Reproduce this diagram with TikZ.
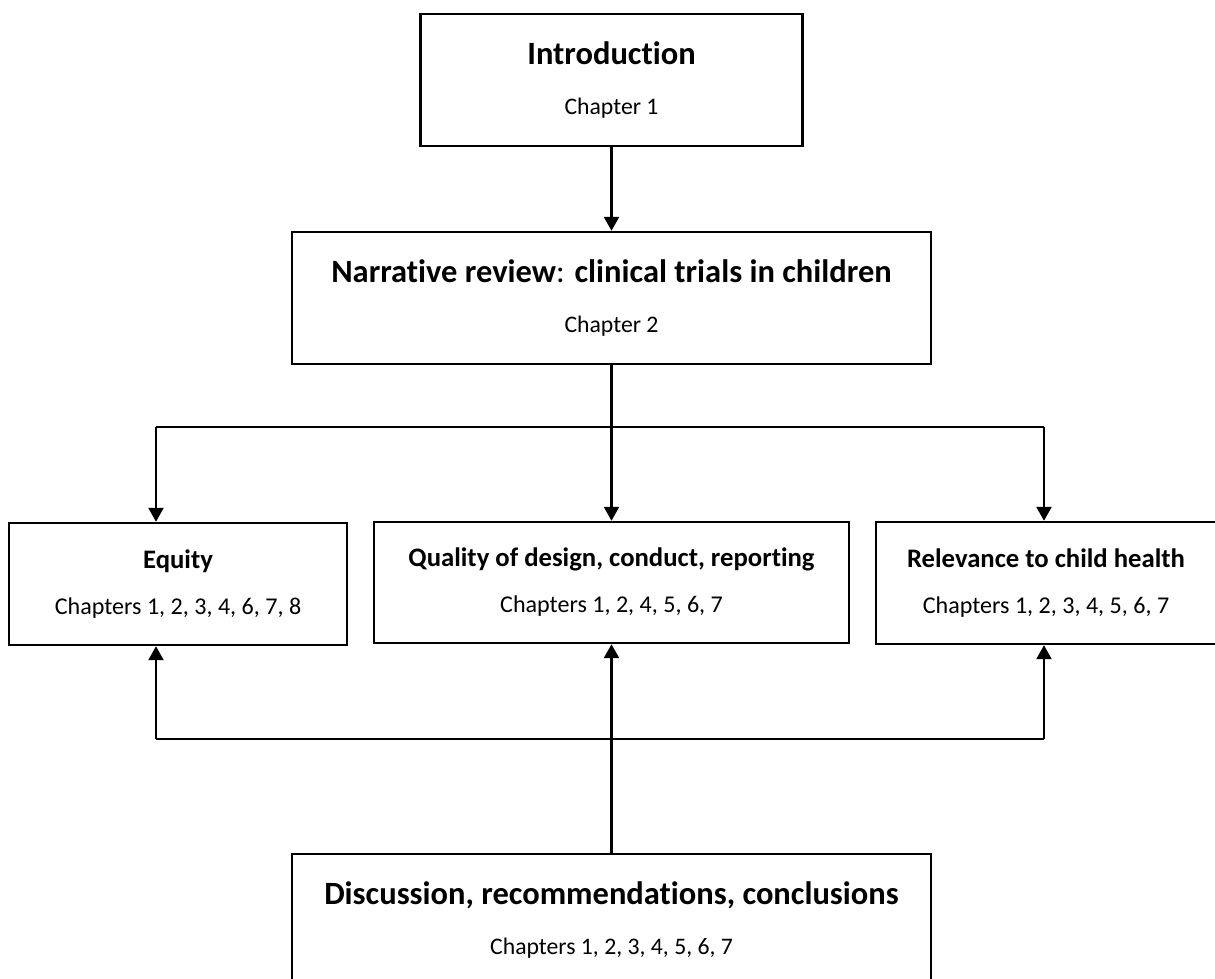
\documentclass[tikz,border=0pt]{standalone}
\usepackage{fontspec}
\setmainfont{Carlito}[Ligatures=NoCommon]
\usetikzlibrary{arrows.meta}

\begin{document}
\begin{tikzpicture}[x=0.02cm,y=-0.02cm,
    kasten/.style={rectangle,draw=black,line width=1.4pt,align=center,inner sep=0pt},
    gross/.style={kasten,minimum width=12.78cm,minimum height=2.64cm,
        font=\fontsize{13.5}{28.8}\selectfont},
    klein/.style={kasten,minimum height=2.44cm,
        font=\fontsize{13.7}{26.2}\selectfont},
    pfeil/.style={-{Triangle[length=0.28cm,width=0.3cm]},line width=1.4pt}]
\useasboundingbox (0,0) rectangle (1215,979);

\node[gross,minimum width=7.64cm] (intro) at (611.5,80)
    {\fontsize{18.5}{28.8}\selectfont\bfseries Introduction\\Chapter 1};
\node[gross] (review) at (611.5,298)
    {\fontsize{18.5}{28.8}\selectfont\textbf{Narrative review}:
     \textbf{clinical trials in children}\\Chapter 2};

\node[klein,minimum width=6.76cm] (equity) at (178,584)
    {\fontsize{15.2}{26.2}\selectfont\bfseries Equity\\Chapters 1, 2, 3, 4, 6, 7, 8};
\node[klein,minimum width=9.5cm,minimum height=2.42cm] (quality) at (611.5,582.5)
    {\fontsize{15.2}{26.2}\selectfont\bfseries Quality of design, conduct, reporting\\
     Chapters 1, 2, 4, 5, 6, 7};
\node[klein,minimum width=6.8cm] (relevance) at (1046,583)
    {\fontsize{15.2}{26.2}\selectfont\bfseries Relevance to child health\\
     Chapters 1, 2, 3, 4, 5, 6, 7};

\node[gross] (discussion) at (611.5,920)
    {\fontsize{18.5}{28.8}\selectfont\bfseries Discussion, recommendations, conclusions\\
     Chapters 1, 2, 3, 4, 5, 6, 7};

% branch out
\coordinate (ol) at (156,427);
\coordinate (or) at (1044,427);
\draw[line width=1.4pt] (ol)--(or);
\draw[pfeil] (intro)--(review);
\draw[pfeil] (review)--(quality);
\draw[pfeil] (ol)--(ol |- equity.north);
\draw[pfeil] (or)--(or |- relevance.north);

% feed back
\coordinate (ul) at (156,739);
\coordinate (ur) at (1044,739);
\draw[line width=1.4pt] (ul)--(ur);
\draw[pfeil] (discussion)--(quality);
\draw[pfeil] (ul)--(ul |- equity.south);
\draw[pfeil] (ur)--(ur |- relevance.south);
\end{tikzpicture}
\end{document}
